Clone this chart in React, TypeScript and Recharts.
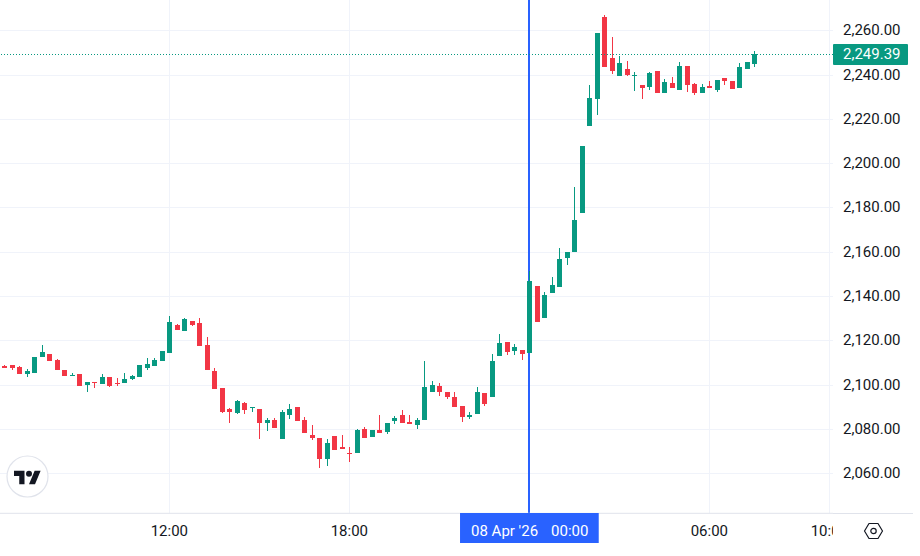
import React from "react";
import { ComposedChart, Bar, XAxis, YAxis, CartesianGrid, ReferenceLine } from "recharts";

const UP = "#089981";
const DOWN = "#F23645";
const FONT = "Roboto, sans-serif";
const FONT_SIZE = 15;

// 15 minute candles, first bar is 06:30 (index 22 = 12:00)
const opens = [
  2108.37, 2108.83, 2107.92, 2104.76, 2105.21, 2112.44, 2113.79, 2111.08, 2106.57, 2103.86,
  2104.76, 2099.79, 2101.15, 2100.24, 2103.41, 2100.70, 2100.70, 2102.50, 2103.41, 2107.47,
  2108.37, 2110.63, 2114.25, 2126.89, 2124.18, 2128.70, 2127.80, 2117.86, 2106.12, 2098.44,
  2088.95, 2087.14, 2091.66, 2089.40, 2088.95, 2082.63, 2083.98, 2075.40, 2086.24, 2089.86,
  2083.98, 2077.21, 2075.86, 2066.37, 2076.76, 2071.79, 2069.08, 2069.08, 2079.92, 2076.31,
  2079.47, 2078.57, 2083.53, 2086.24, 2083.08, 2081.73, 2083.98, 2096.63, 2099.34, 2096.63,
  2094.37, 2090.31, 2085.34, 2086.70, 2096.18, 2094.37, 2112.89, 2119.21, 2115.15, 2115.60,
  2114.25, 2144.51, 2130.05, 2141.35, 2144.06, 2157.15, 2159.87, 2177.48, 2216.77, 2228.97,
  2266.01, 2247.49, 2239.36, 2242.52, 2239.36, 2235.29, 2234.39, 2241.62, 2231.68, 2236.20,
  2233.03, 2243.87, 2235.75, 2231.68, 2234.84, 2233.03, 2238.45, 2237.10, 2233.94, 2242.52,
  2244.78,
];
const highs = [
  2108.83, 2108.83, 2108.37, 2107.02, 2112.44, 2117.86, 2113.79, 2111.54, 2106.57, 2105.21,
  2104.76, 2101.15, 2101.15, 2104.76, 2103.41, 2102.95, 2105.21, 2104.31, 2108.83, 2111.99,
  2111.99, 2115.15, 2130.96, 2127.35, 2130.05, 2128.70, 2130.05, 2121.47, 2107.47, 2098.44,
  2089.40, 2093.02, 2092.11, 2089.86, 2088.95, 2084.89, 2084.89, 2088.50, 2091.21, 2089.86,
  2085.34, 2081.73, 2075.86, 2075.40, 2076.76, 2077.21, 2071.79, 2079.92, 2080.82, 2079.47,
  2086.24, 2082.63, 2085.79, 2088.50, 2086.24, 2084.89, 2110.63, 2101.60, 2100.70, 2096.63,
  2096.63, 2090.31, 2087.60, 2098.89, 2096.18, 2113.80, 2122.83, 2119.21, 2118.31, 2115.60,
  2151.29, 2144.51, 2141.80, 2148.57, 2161.67, 2159.87, 2189.22, 2207.74, 2235.29, 2258.78,
  2266.91, 2256.97, 2248.39, 2246.14, 2241.17, 2235.29, 2241.17, 2241.62, 2238.00, 2238.91,
  2245.68, 2243.87, 2236.20, 2235.75, 2237.10, 2237.55, 2238.45, 2237.10, 2245.23, 2245.68,
  2250.65,
];
const lows = [
  2107.47, 2106.57, 2104.76, 2103.41, 2105.21, 2112.44, 2110.63, 2106.57, 2103.86, 2103.86,
  2099.34, 2096.63, 2098.44, 2100.24, 2098.89, 2099.34, 2100.70, 2102.05, 2103.41, 2106.57,
  2108.37, 2110.63, 2114.25, 2124.63, 2124.18, 2126.44, 2117.41, 2106.57, 2097.98, 2087.14,
  2082.63, 2086.69, 2086.69, 2087.60, 2075.40, 2079.01, 2080.37, 2075.40, 2084.44, 2083.53,
  2078.11, 2074.95, 2062.30, 2063.21, 2070.44, 2070.89, 2065.02, 2069.08, 2075.86, 2076.31,
  2078.11, 2077.66, 2082.18, 2082.63, 2082.18, 2079.92, 2083.98, 2096.63, 2094.83, 2093.47,
  2089.86, 2083.08, 2084.44, 2086.70, 2090.31, 2094.37, 2112.89, 2113.34, 2113.34, 2111.09,
  2114.25, 2128.24, 2130.05, 2141.35, 2144.06, 2153.99, 2159.87, 2177.48, 2216.77, 2221.75,
  2243.42, 2240.26, 2239.36, 2239.36, 2232.58, 2228.97, 2233.03, 2231.68, 2231.68, 2233.94,
  2233.03, 2232.13, 2230.78, 2231.68, 2233.94, 2232.13, 2235.29, 2233.49, 2233.94, 2242.52,
  2243.42,
];
const closes = [
  2107.47, 2107.47, 2104.76, 2106.12, 2112.44, 2114.70, 2110.63, 2106.57, 2103.86, 2104.31,
  2099.34, 2101.15, 2100.70, 2103.41, 2099.34, 2100.24, 2102.50, 2103.86, 2108.83, 2109.28,
  2111.08, 2115.15, 2128.25, 2124.63, 2129.60, 2126.89, 2117.41, 2106.57, 2097.98, 2087.60,
  2087.60, 2092.56, 2088.50, 2089.86, 2082.63, 2083.98, 2080.37, 2087.60, 2088.95, 2083.53,
  2078.11, 2075.86, 2066.37, 2073.60, 2070.44, 2070.89, 2068.78, 2079.47, 2075.86, 2079.47,
  2078.11, 2082.63, 2084.89, 2082.63, 2082.18, 2083.98, 2098.89, 2099.79, 2096.63, 2094.37,
  2089.86, 2085.34, 2086.24, 2096.63, 2091.21, 2110.63, 2118.76, 2114.70, 2116.96, 2113.80,
  2146.77, 2128.24, 2140.44, 2144.96, 2156.70, 2159.87, 2174.32, 2207.74, 2229.42, 2258.78,
  2243.42, 2241.62, 2245.23, 2239.81, 2239.81, 2233.94, 2240.71, 2231.68, 2236.65, 2233.94,
  2243.87, 2235.29, 2231.68, 2234.39, 2233.94, 2237.55, 2237.10, 2233.49, 2243.42, 2245.68,
  2249.39,
];

const lastPrice = 2249.39;
const priceTicks = [2060, 2080, 2100, 2120, 2140, 2160, 2180, 2200, 2220, 2240, 2260];
const timeTicks = [22, 46, 70, 94, 110];
const timeLabels: Record<number, string> = { 22: "12:00", 46: "18:00", 94: "06:00", 110: "10:00" };
const crosshairIndex = 70;
const crosshairDate = "08 Apr '26";
const crosshairTime = "00:00";

const data = opens.map((open, i) => ({ i, open, high: highs[i], low: lows[i], close: closes[i] }));

const fmtPrice = (v: number) =>
  v.toLocaleString("en-US", { minimumFractionDigits: 2, maximumFractionDigits: 2 });

function Candle(props: any) {
  const { x, y, width, height, payload } = props;
  const { open, high, low, close } = payload;
  const color = close >= open ? UP : DOWN;
  const k = height / (high - low);
  const col = Math.round(x + width / 2);
  const top = Math.round(y + (high - Math.max(open, close)) * k);
  const bottom = Math.round(y + (high - Math.min(open, close)) * k);
  return (
    <g>
      <rect x={col} y={Math.round(y)} width={1} height={Math.max(1, Math.round(height))} fill={color} />
      <rect x={col - 2} y={top} width={5} height={Math.max(1, bottom - top)} fill={color} />
    </g>
  );
}

// grid lines snapped to whole pixels so they stay thin
const gridH = (p: any) => {
  const y = Math.round(p.y1) + 0.5;
  return <line key={p.key} x1={p.x1} x2={p.x2} y1={y} y2={y} stroke="#f0f3fa" />;
};
const gridV = (p: any) => {
  const x = Math.round(p.x1) + 0.5;
  return <line key={p.key} x1={x} x2={x} y1={p.y1} y2={p.y2} stroke="#f0f3fa" />;
};

function CrosshairLine(props: any) {
  const x = Math.round(props.x1);
  return <line x1={x} x2={x} y1={props.y1} y2={props.y2} stroke="#2962FF" strokeWidth={2} />;
}

function PriceLine(props: any) {
  const y = Math.round(props.y1) + 0.5;
  return <line x1={props.x1} x2={props.x2} y1={y} y2={y} stroke={UP} strokeDasharray="1 2" />;
}

function TimeTick(props: any) {
  const { x, payload } = props;
  const v = payload.value;
  if (v === crosshairIndex) {
    return (
      <g fontFamily={FONT} fontSize={FONT_SIZE} fill="#fff">
        <rect x={x - 69.3} y={513} width={138.7} height={30} fill="#2962FF" />
        <text x={x - 58.3} y={535.5}>{crosshairDate}</text>
        <text x={x + 21.7} y={535.5}>{crosshairTime}</text>
      </g>
    );
  }
  // the last label is cut off where the price scale starts
  return (
    <svg x={0} y={513} width={833} height={43}>
      <text x={x} y={22.5} textAnchor="middle" fontFamily={FONT} fontSize={FONT_SIZE} fill="#131722">
        {timeLabels[v]}
      </text>
    </svg>
  );
}

function PriceTick(props: any) {
  const { y, payload } = props;
  return (
    <text x={843} y={Math.round(y) + 4.5} fontFamily={FONT} fontSize={FONT_SIZE} fill="#131722">
      {fmtPrice(payload.value)}
    </text>
  );
}

function LastPriceTag(props: any) {
  const { viewBox } = props;
  const right = viewBox.x + viewBox.width;
  const mid = Math.round(viewBox.y);
  return (
    <g>
      <rect x={right} y={mid - 10} width={75} height={21} rx={1} fill={UP} />
      <text x={right + 10} y={mid + 5} fontFamily={FONT} fontSize={FONT_SIZE} fill="#fff">
        {fmtPrice(lastPrice)}
      </text>
    </g>
  );
}

export default function App() {
  return (
    <div style={{ position: "absolute", left: 0, top: 0, width: 920, height: 556, background: "#fff", overflow: "hidden" }}>
      <ComposedChart
        width={913}
        height={556}
        data={data}
        margin={{ top: 0, right: 0, bottom: 0, left: 0 }}
      >
        <CartesianGrid horizontal={gridH} vertical={gridV} horizontalValues={priceTicks} verticalValues={timeTicks} />
        <XAxis
          type="number"
          dataKey="i"
          domain={[-0.5773, 110.49]}
          ticks={timeTicks}
          interval={0}
          height={42.7}
          tick={<TimeTick />}
          tickLine={false}
          axisLine={{ stroke: "#e0e3eb" }}
          allowDataOverflow
        />
        <YAxis
          orientation="right"
          width={80}
          domain={[2041.84, 2273.69]}
          ticks={priceTicks}
          interval={0}
          tick={<PriceTick />}
          tickLine={false}
          axisLine={false}
          allowDataOverflow
        />
        <ReferenceLine x={crosshairIndex} shape={<CrosshairLine />} zIndex={200} />
        <Bar
          dataKey={(d: any) => [d.low, d.high]}
          barSize={5}
          shape={<Candle />}
          isAnimationActive={false}
        />
        <ReferenceLine y={lastPrice} shape={<PriceLine />} label={<LastPriceTag />} />
      </ComposedChart>

      {/* price scale part of the bottom border */}
      <div style={{ position: "absolute", left: 833, top: 513, width: 80, height: 1, background: "#e0e3eb" }} />

      {/* settings icon */}
      <svg style={{ position: "absolute", left: 863, top: 521 }} width={21} height={20}>
        <path d="M6 2.5h9l4.5 7.5-4.5 7.5H6L1.5 10z" fill="none" stroke="#131722" strokeWidth={1.2} strokeLinejoin="round" />
        <circle cx={10.5} cy={10} r={2.7} fill="none" stroke="#131722" strokeWidth={1.2} />
      </svg>

      {/* logo */}
      <svg style={{ position: "absolute", left: 6, top: 455 }} width={43} height={43}>
        <circle cx={21.5} cy={21.5} r={20.5} fill="#fff" stroke="#e0e3eb" strokeWidth={1.2} />
        <g transform="translate(8 12.7) scale(0.75)" fill="#131722">
          <path d="M14 22H7V11H0V4h14v18zM28 22h-8l7.5-18h8L28 22z" />
          <circle cx={20} cy={8} r={4} />
        </g>
      </svg>
    </div>
  );
}
